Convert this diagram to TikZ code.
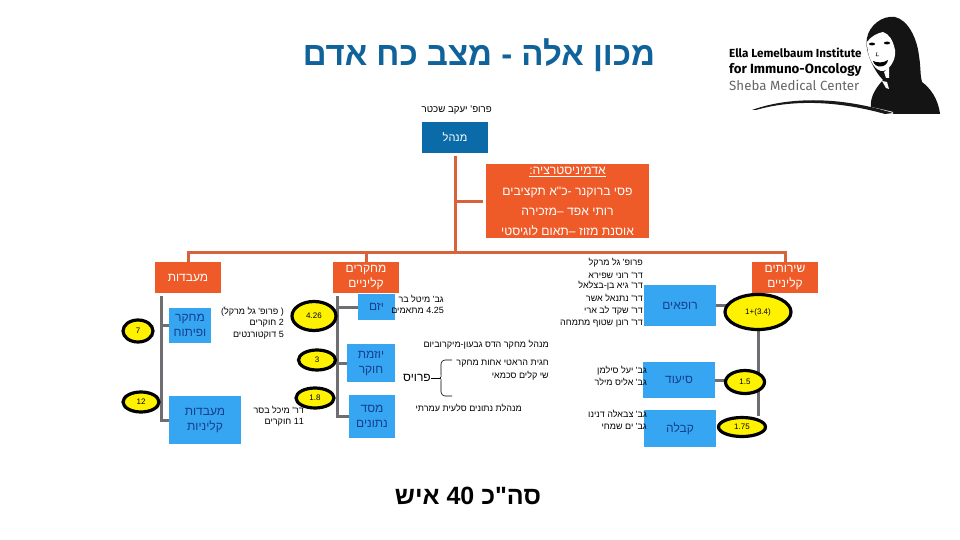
\documentclass[tikz,border=0pt]{standalone}
\usepackage{fontspec}
\setmainfont{Liberation Sans}
\newfontfamily\heb[Script=Hebrew]{Liberation Sans}
\newfontfamily\logofont{Fira Sans}
\TeXXeTstate=1
\usetikzlibrary{shapes.geometric,backgrounds}
\definecolor{orangeb}{HTML}{EE5A28}
\definecolor{orangel}{HTML}{D8633A}
\definecolor{blued}{HTML}{0A6BA8}
\definecolor{bluel}{HTML}{36A6F2}
\definecolor{bluet}{HTML}{153E8C}
\definecolor{grayl}{HTML}{6E6E72}
\definecolor{titleblue}{HTML}{0F629A}
\newcommand{\hb}[1]{{\heb\beginR #1\endR}}
\tikzset{
 x=1pt,y=-1pt,
 lineo/.style={draw=orangel,line width=3pt},
 lineg/.style={draw=grayl,line width=3pt},
 obox/.style={fill=orangeb,inner sep=0pt,text=white,font=\fontsize{12}{15}\selectfont,align=center},
 bbox/.style={fill=bluel,inner sep=0pt,text=bluet,font=\fontsize{12}{15}\selectfont,align=center},
 adm/.style={text=white,inner sep=0pt,font=\fontsize{12.2}{14}\selectfont},
 ell/.style={ellipse,draw=black,fill=yellow,line width=3.2pt,inner sep=0pt,font=\fontsize{8}{9}\selectfont},
 lbl/.style={inner sep=0pt,anchor=east,font=\fontsize{9}{10}\selectfont},
}
\begin{document}
\begin{tikzpicture}
\useasboundingbox (0,0) rectangle (960,540);
% title
\node[inner sep=0pt,text=titleblue,font=\bfseries\fontsize{33}{38}\selectfont] (title) at (479,55) {\hb{מכון אלה - מצב כח אדם}};
\node[lbl,font=\fontsize{9.7}{11}\selectfont] (boss) at (492,110) {\hb{פרופ' יעקב שכטר}};
% boxes
\node[fill=blued,text=white,inner sep=0pt,minimum width=66pt,minimum height=31pt,font=\fontsize{11}{13}\selectfont] (mgr) at (455,137.5) {\hb{מנהל}};
\node[fill=orangeb,inner sep=0pt,minimum width=163pt,minimum height=74pt] (admin) at (567.5,201) {};
\node[adm] (ad0) at (567.5,172) {\hb{\underline{אדמיניסטרציה:}}};
\node[adm] (ad1) at (567.5,192) {\hb{פסי ברוקנר -כ"א תקציבים}};
\node[adm] (ad2) at (567.5,212) {\hb{רותי אפד –מזכירה}};
\node[adm] (ad3) at (567.5,231) {\hb{אוסנת מזוז –תאום לוגיסטי}};
\node[obox,minimum width=66pt,minimum height=31pt] (lab) at (188,277.5) {\hb{מעבדות}};
\node[obox,minimum width=66pt,minimum height=31pt] (clin) at (366,277.5) {\hb{מחקרים}\\\hb{קליניים}};
\node[obox,minimum width=66pt,minimum height=31pt] (serv) at (785,277.5) {\hb{שירותים}\\\hb{קליניים}};
% blue boxes
\node[bbox,minimum width=42pt,minimum height=35pt] (rd) at (190,325.5) {\hb{מחקר}\\\hb{ופיתוח}};
\node[bbox,minimum width=72pt,minimum height=48pt] (cl) at (205,420) {\hb{מעבדות}\\\hb{קליניות}};
\node[bbox,minimum width=37pt,minimum height=26pt] (yz) at (376.5,307) {\hb{יזם}};
\node[bbox,minimum width=48pt,minimum height=38pt] (yr) at (371,363) {\hb{יוזמת}\\\hb{חוקר}};
\node[bbox,minimum width=46pt,minimum height=43pt] (db) at (372,416.5) {\hb{מסד}\\\hb{נתונים}};
\node[bbox,minimum width=72pt,minimum height=41pt] (doc) at (680,305.5) {\hb{רופאים}};
\node[bbox,minimum width=72pt,minimum height=36pt] (cs) at (679,380) {\hb{סיעוד}};
\node[bbox,minimum width=72pt,minimum height=37pt] (rc) at (680,428.5) {\hb{קבלה}};
% ellipses
\node[ell,minimum width=30pt,minimum height=22pt] (e7) at (138,331) {7};
\node[ell,minimum width=36pt,minimum height=20pt] (e12) at (141,402) {12};
\node[ell,minimum width=44pt,minimum height=29pt] (e426) at (314,316) {4.26};
\node[ell,minimum width=37pt,minimum height=20pt] (e3) at (317,360) {3};
\node[ell,minimum width=38pt,minimum height=20pt] (e18) at (315,398) {1.8};
\node[ell,minimum width=66pt,minimum height=35pt] (e34) at (758,312) {1+(3.4)};
\node[ell,minimum width=39pt,minimum height=23pt] (e15) at (745,382) {1.5};
\node[ell,minimum width=47pt,minimum height=19pt] (e175) at (742,427) {1.75};
% connectors, behind the boxes
\coordinate (tB) at (455,252);
\coordinate (gL) at (161,296);
\coordinate (gM) at (337,296);
\begin{pgfonlayer}{background}
\fill[white] (0,0) rectangle (960,540);
\draw[lineo,shorten <=3pt] (mgr.south) -- (tB);
\draw[lineo,shorten >=3pt] (mgr.south |- admin.west) -- (admin.west);
\draw[lineo] (lab.north) |- (tB);
\draw[lineo] (serv.north) |- (tB);
\draw[lineo] (clin.north) |- (tB);
\draw[lineg] (gL) |- (cl.west);
\draw[lineg] (gL |- rd.west) -- (rd.west);
\draw[lineg] (gM) |- (db.west);
\draw[lineg] (gM |- yz.west) -- (yz.west);
\draw[lineg] (gM |- yr.west) -- (yr.west);
\draw[lineg] (e34.south) -- (e34.south |- e175.north);
\draw[lineg] (doc.east) -- (doc.east -| e34);
\draw[lineg] (cs.east) -- (cs.east -| e15);
\end{pgfonlayer}
% left texts
\node[lbl] (t1) at (284,312) {\hb{( פרופ' גל מרקל)}};
\node[lbl] (t2) at (284,323) {\hb{2 חוקרים}};
\node[lbl] (t3) at (284,335) {\hb{5 דוקטורנטים}};
\node[lbl] (t4) at (304,410) {\hb{דר' מיכל בסר}};
\node[lbl] (t5) at (304,422) {\hb{11 חוקרים}};
\node[lbl] (t6) at (444,299) {\hb{גב' מיטל בר}};
\node[lbl] (t7) at (444,310) {\hb{4.25 מתאמים}};
\node[lbl] (t8) at (549,345) {\hb{מנהל מחקר הדס גבעון-מיקרוביום}};
\node[lbl] (t9) at (549,364) {\hb{חגית הראטי אחות מחקר}};
\node[lbl] (t10) at (549,376) {\hb{שי קלים סכמאי}};
\node[lbl] (t11) at (522,408) {\hb{מנהלת נתונים סלעית עמרתי}};
\node[inner sep=0pt,anchor=east,font=\fontsize{12}{14}\selectfont] (per) at (431,378) {\hb{פרויס}};
\coordinate (brace) at (440,378);
\draw[black,line width=.6pt] (per.east) -- (brace);
\draw[black,line width=.6pt] (452,360) -- (445,360) to[out=180,in=90] (441,364) -- (441,374) to[out=-90,in=0] (brace) to[out=0,in=90] (441,382) -- (441,392) to[out=-90,in=180] (445,396) -- (452,396);
% doctors
\node[lbl] (d1) at (643,263) {\hb{פרופ' גל מרקל}};
\node[lbl] (d2) at (643,275) {\hb{דר' רוני שפירא}};
\node[lbl] (d3) at (643,286) {\hb{דר' גיא בן-בצלאל}};
\node[lbl] (d4) at (643,298) {\hb{דר' נתנאל אשר}};
\node[lbl] (d5) at (643,311) {\hb{דר' שקד לב ארי}};
\node[lbl] (d6) at (643,323) {\hb{דר' רונן שטוף מתמחה}};
\node[lbl] (n1) at (647,371) {\hb{גב' יעל סילמן}};
\node[lbl] (n2) at (647,382) {\hb{גב' אליס מילר}};
\node[lbl] (n3) at (647,414) {\hb{גב' צבאלה דנינו}};
\node[lbl] (n4) at (647,426) {\hb{גב' ים שמחי}};
% total
\node[inner sep=0pt,font=\bfseries\fontsize{25}{30}\selectfont] (tot) at (468,496) {\hb{סה"כ 40 איש}};
% logo
\node[inner sep=0pt,anchor=west,font=\logofont\bfseries\fontsize{11.7}{13}\selectfont] (l1) at (729,53) {Ella Lemelbaum Institute};
\node[inner sep=0pt,anchor=west,font=\logofont\bfseries\fontsize{13.3}{15}\selectfont] (l2) at (729,70) {for Immuno-Oncology};
\node[inner sep=0pt,anchor=west,text=black!60,font=\logofont\fontsize{13.3}{15}\selectfont] (l3) at (729,85) {Sheba Medical Center};
% portrait
\fill[black!92] (867,38) .. controls (869,26) and (882,15) .. (895,17) .. controls (908,20) and (917,38) .. (919,56) .. controls (921,68) and (920,76) .. (922,82) .. controls (930,88) and (938,98) .. (940,114) -- (872,114) .. controls (868,100) and (874,90) .. (883,80) .. controls (875,72) and (864,52) .. (867,38) -- cycle;
\fill[white] (867,42) .. controls (871,36) and (878,33) .. (883,32) .. controls (889,34) and (893,40) .. (895,50) .. controls (896,58) and (892,66) .. (886,70) .. controls (882,72) and (879,71) .. (877,69) .. controls (871,64) and (867,54) .. (867,42) -- cycle;
\fill[white] (884,72) -- (889,67) -- (889,78) -- (886,78) -- cycle;
\fill[white] (882,81) -- (887,82) -- (889,89) -- (886,88) -- cycle;
\fill[black] (872,44) ellipse (3pt and 1.4pt) (887,43) ellipse (3pt and 1.4pt);
\draw[black,line width=.5pt] (877,52) -- (876,56) -- (879,56);
\fill[black] (873,61) .. controls (877,63) and (884,63) .. (888,60) .. controls (887,68) and (875,69) .. (873,61) -- cycle;
% swoosh
\fill[white] (752,110.5) .. controls (785,100) and (835,97) .. (893,112) -- (893,120) -- (752,120) -- cycle;
\fill[black!90] (752,110) .. controls (785,98) and (835,95) .. (893,113) -- (885,114) .. controls (835,100) and (790,100) .. (756,110) -- cycle;
\end{tikzpicture}
\end{document}
